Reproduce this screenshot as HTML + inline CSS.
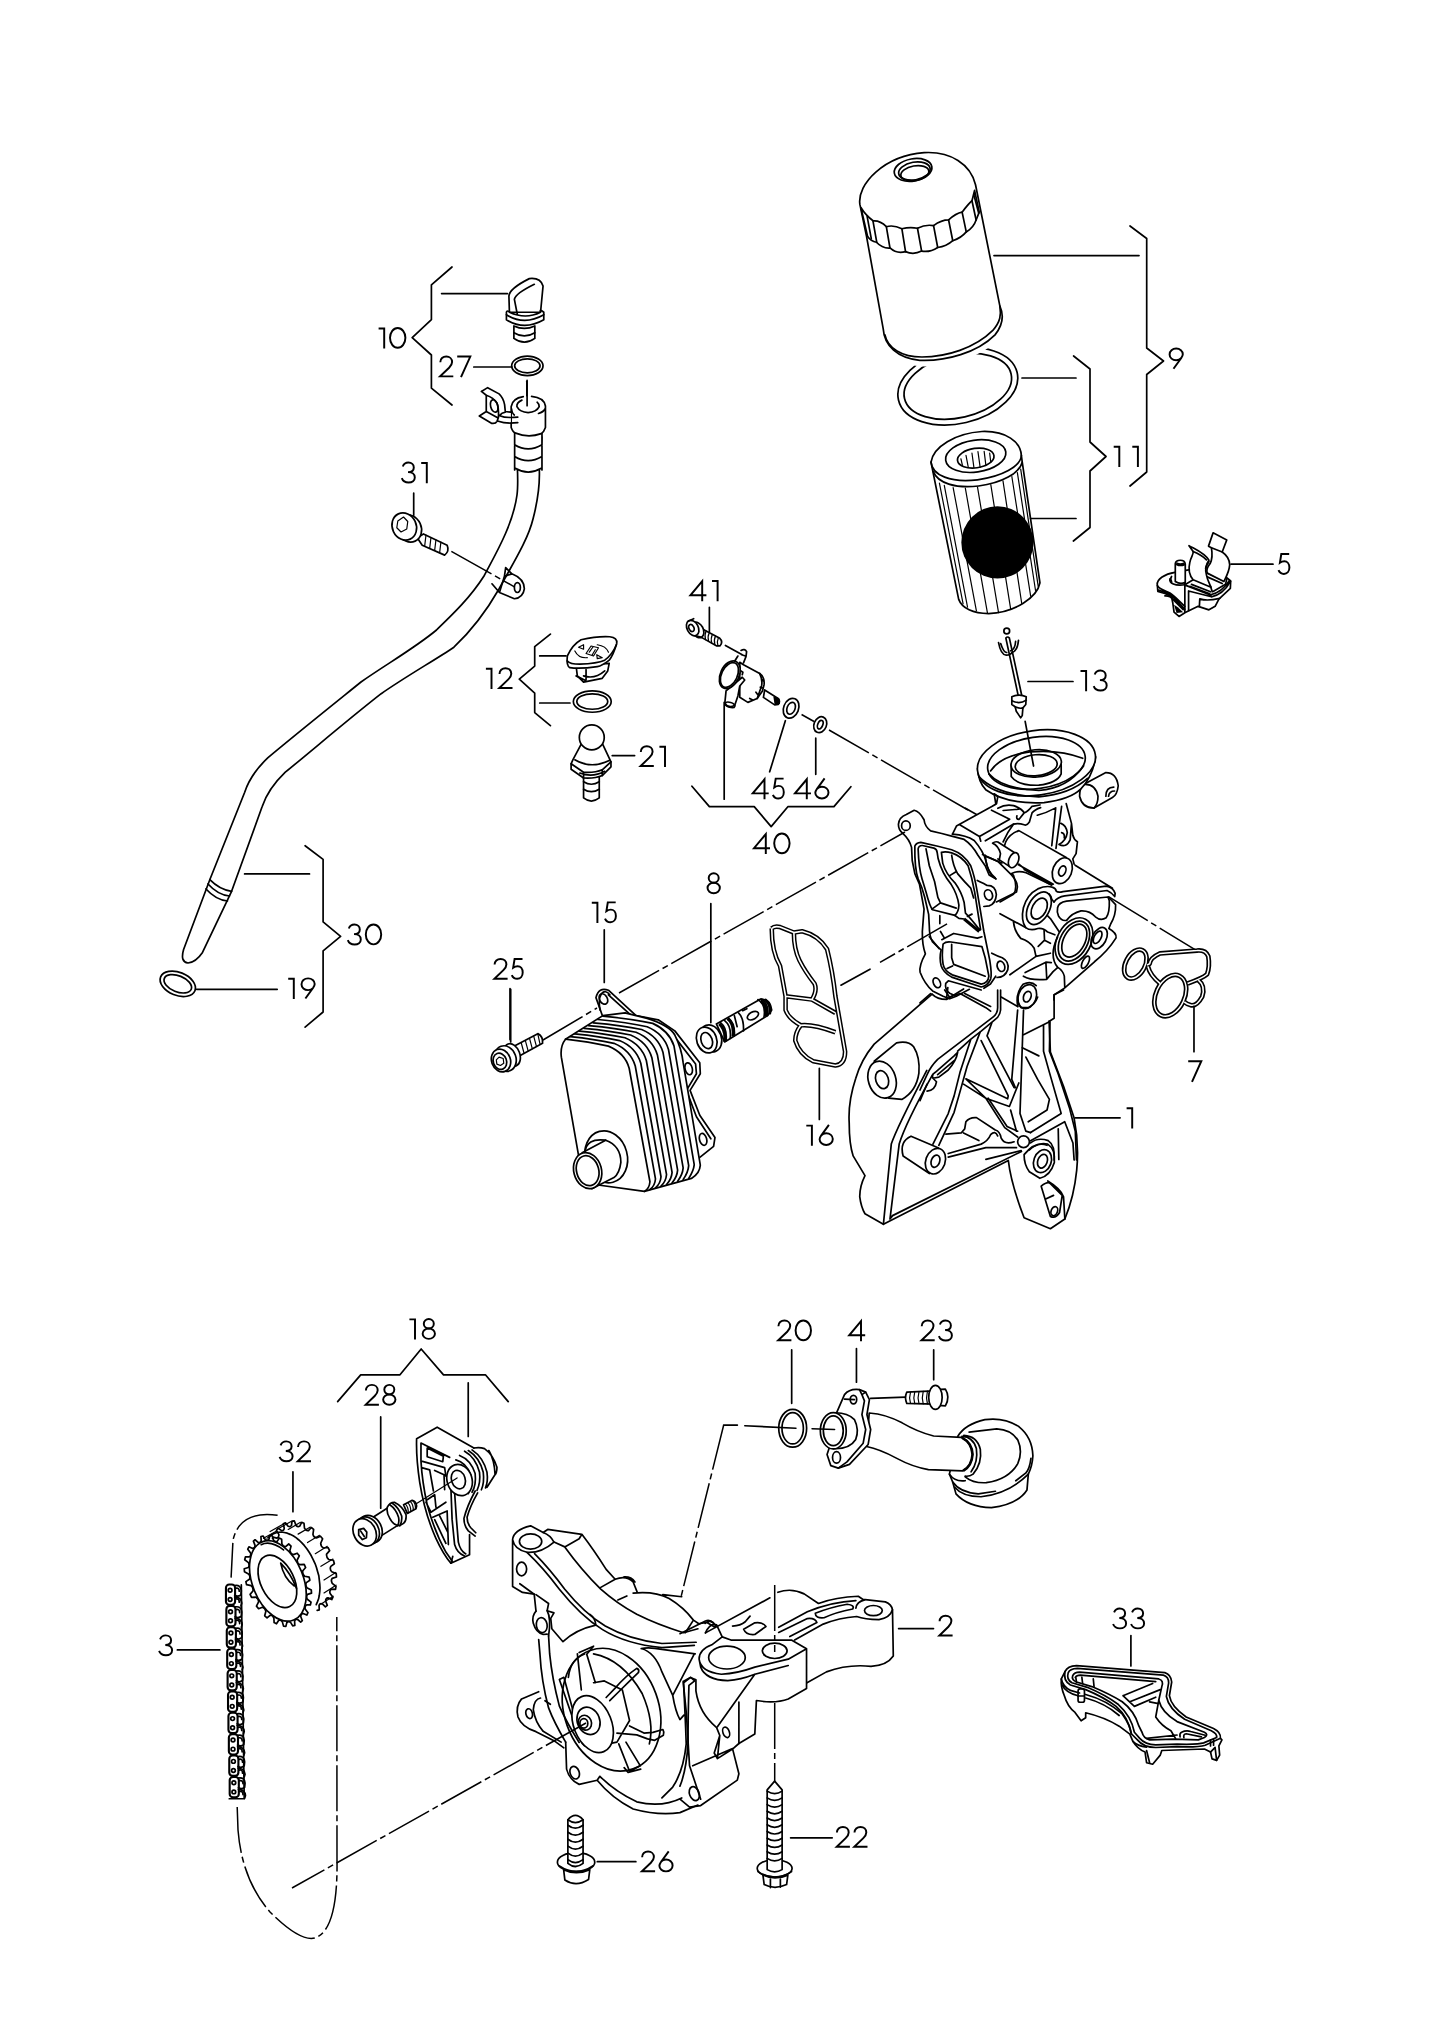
<!DOCTYPE html>
<html><head><meta charset="utf-8"><title>Oil filter / oil pump parts diagram</title>
<style>
html,body{margin:0;padding:0;background:#fff}
svg{display:block}
svg *{vector-effect:non-scaling-stroke}
.l{fill:none;stroke:#000;stroke-width:1.7;stroke-linecap:round;stroke-linejoin:round}
.t{fill:none;stroke:#000;stroke-width:1.2;stroke-linecap:round;stroke-linejoin:round}
.w{fill:#fff;stroke:#000;stroke-width:1.7;stroke-linecap:round;stroke-linejoin:round}
.d{fill:none;stroke:#000;stroke-width:1.5;stroke-dasharray:46 4 6 4}
.k{fill:#000;stroke:none}
text{font-family:"Liberation Sans",sans-serif;font-size:30px;fill:#000}
</style></head><body>
<svg width="1445" height="2042" viewBox="0 0 1445 2042">
<rect width="1445" height="2042" fill="#fff"/>
<!-- filter cap, region [840,140,1160,440] scale 4.516 -->
<g transform="translate(840,140) scale(0.22145)">
<!-- o-ring behind -->
<ellipse class="w" cx="532" cy="1112" rx="275" ry="168" transform="rotate(-13 532 1112)"/>
<ellipse class="w" cx="532" cy="1112" rx="247" ry="142" transform="rotate(-13 532 1112)"/>
<!-- cap body -->
<path d="M90,292 C75,200 200,70 380,57 C500,50 590,110 612,202 L722,750 C740,790 740,830 700,880 C620,960 480,1000 360,995 C260,985 200,930 195,852 L120,436 Z" fill="#fff" stroke="#fff" stroke-width="12" stroke-linejoin="round"/>
<path class="w" d="M90,292 C75,200 200,70 380,57 C500,50 590,110 612,202 L722,750 C740,790 740,830 700,880 C620,960 480,1000 360,995 C260,985 200,930 195,852 L120,436 Z"/>
<path class="l" d="M203,880 C215,940 280,980 370,980 C480,980 610,940 690,860 C725,820 728,790 722,750"/>
<!-- knurl band: frame U [850,180] scale 9.633 -->
<g transform="translate(45.16,180.63) scale(0.46876)">
<path class="w" d="M105,265 Q150,340 225,395 Q290,390 350,450 Q420,430 500,470 Q575,450 650,465 Q730,425 805,440 Q880,385 950,385 Q1020,320 1080,310 Q1140,230 1175,200 L1200,100 L1245,310 L1215,385 Q1190,460 1120,500 Q1070,560 990,585 Q930,640 845,650 Q770,700 690,685 Q610,725 535,690 Q450,715 385,655 Q310,660 255,600 Q200,590 170,545 Z"/>
<path class="l" d="M165,350 L205,565 M222,398 L258,600 M350,450 L385,655 M500,470 L535,690 M650,465 L690,685 M805,440 L845,650 M950,385 L990,585 M1080,310 L1120,500 M1175,200 L1215,385 M1195,150 L1240,320"/>
</g>
<!-- hole -->
<ellipse class="l" cx="330" cy="135" rx="86" ry="50" transform="rotate(-10 330 135)"/>
<ellipse class="l" cx="336" cy="140" rx="72" ry="40" transform="rotate(-10 336 140)"/>
<ellipse class="l" cx="338" cy="150" rx="64" ry="33" transform="rotate(-10 338 150)"/>
</g>

<!-- filter element + pin 13, region [900,420,1220,720] scale 4.516 -->
<g transform="translate(900,420) scale(0.22145)">
<path class="w" d="M140,190 C150,120 250,60 370,52 C480,48 545,100 548,160 L552,190 L632,735 C620,800 520,870 400,874 C330,874 280,850 265,810 L150,240 Z"/>
<path class="l" d="M140,190 C145,250 230,285 350,270 C460,255 545,210 548,160"/>
<path class="l" d="M150,232 C170,285 250,310 355,298 C460,285 540,240 552,190"/>
<ellipse class="l" cx="342" cy="163" rx="137" ry="72" transform="rotate(-8 342 163)"/>
<ellipse class="l" cx="342" cy="172" rx="83" ry="44" transform="rotate(-8 342 172)"/>
<path class="t" d="M275,175 L282,205 M298,160 L308,212 M325,150 L334,216 M352,143 L362,214 M380,142 L388,206 M405,150 L410,192"/>
<path class="t" d="M178,285 L285,830 M200,295 L305,845 M240,305 L345,862 M295,308 L395,872 M350,303 L445,870 M410,292 L500,855 M465,275 L550,830 M505,255 L590,795 M530,238 L612,770 M545,222 L624,750"/>
<circle class="k" cx="440" cy="553" r="163"/>
<!-- pin 13 -->
<circle class="w" cx="482" cy="953" r="13"/>
<path class="l" d="M478,985 L535,1250 M494,985 L550,1245 M478,985 Q486,975 494,985"/>
<path class="l" d="M445,1005 Q455,1060 480,1062 Q500,1060 505,1050 M455,1010 Q468,1050 482,1050 M535,995 Q530,1045 505,1050 M522,1000 Q520,1035 500,1042"/>
<path class="w" d="M505,1250 Q540,1235 570,1250 L568,1285 L555,1300 L552,1335 L545,1345 L525,1315 L520,1295 L505,1285 Z"/>
<path class="l" d="M505,1268 Q540,1285 570,1265 M520,1295 Q540,1305 555,1300"/>
</g>

<!-- part 5 clip, region [1140,515,1260,635] scale 12.04 -->
<g transform="translate(1140,515) scale(0.08304)">
<path class="w" d="M420,690 C300,710 200,770 208,840 L215,920 L300,945 L380,985 L395,1060 L410,1170 L470,1222 L545,1175 L700,1100 L830,1142 L905,1100 L950,1012 L1088,885 L1092,795 L1040,750 L700,640 Z"/>
<path class="l" d="M210,850 C230,890 300,910 360,940 C420,975 480,1050 540,1100 M225,905 C300,930 360,950 400,990 L540,1135 M300,975 Q360,970 400,1020 L520,1140"/>
<path class="l" d="M540,800 V1170 M585,915 V1150 M585,915 L860,985 M560,850 L855,965 M555,830 L640,780 M860,985 Q1000,960 1090,800 M850,960 Q990,930 1075,790 M720,1010 Q800,1040 960,1005 M720,1010 L715,1100 M600,860 L840,950 M620,835 L850,925"/>
<path class="l" d="M880,920 L1030,835 L1045,770 M820,700 L1010,790 M810,745 L990,825 M850,860 L870,925"/>
<path class="k" d="M410,1080 L455,1110 L520,1170 L440,1180 Z"/>
<!-- pin -->
<path class="l" d="M360,770 C350,820 420,860 540,840 M380,740 Q360,770 380,800"/>
<path class="w" d="M425,800 V585 Q430,545 485,545 Q540,545 545,590 V810 Q485,840 425,800 Z"/>
<path class="l" d="M440,595 Q485,620 535,598 M445,580 Q485,600 530,580"/>
<!-- leaves -->
<path class="w" d="M590,370 C680,420 780,460 830,545 C790,600 780,650 800,720 C810,780 840,830 855,870 L640,780 C590,720 580,650 600,570 C610,510 650,470 640,440 Z"/>
<path class="l" d="M640,440 Q740,480 800,540 M790,640 Q800,610 830,560"/>
<path class="w" d="M880,215 L1045,300 L990,445 C1040,480 1080,530 1080,600 C1075,680 1040,740 1010,800 L810,700 C790,650 820,620 845,585 C875,520 870,450 860,395 L825,375 Z"/>
<path class="l" d="M860,395 L990,445"/>
</g>

<!-- dipstick tube lower part in real coords -->
<path class="w" d="M515.6,437 C517,460 519,480 517,495 C513,525 495,555 484,576 C470,598 452,615 436.5,630 C415,648 385,665 361,682 C330,707 295,735 268,757.6 C255,770 248,782 244.6,792.5 L209.8,879.7 L183.6,949.5 Q180,962 188,963 Q196,962 202.5,952.4 L231.6,891.3 L262,807 C266,795 274,783 285.3,772.2 C315,748 350,718 381.2,693.7 C405,677 435,660 453.9,647.2 C470,632 487,610 499,589 C512,565 528,540 533,519 C538,500 540,485 539.3,469 L541.8,437 Z"/>
<path class="l" d="M209.8,879.7 Q220,890 231.6,891.3 M208,884 Q218,895 229.5,896 M206,889 Q216,900 227.5,901"/>
<ellipse class="w" cx="177.8" cy="983.8" rx="18.5" ry="11.5" transform="rotate(22 177.8 983.8)"/>
<ellipse class="l" cx="177.8" cy="983.8" rx="14.5" ry="8" transform="rotate(22 177.8 983.8)"/>
<!-- upper: region [340,240,700,600] scale 4.014 -->
<g transform="translate(340,240) scale(0.24913)">
<!-- plug 10 -->
<path class="w" d="M680,290 L678,225 Q680,195 760,155 Q805,150 815,185 L805,290 Z"/>
<path class="l" d="M712,300 L700,238 Q705,215 780,178"/>
<path class="w" d="M668,290 V320 Q740,365 818,320 V290 Q800,275 805,290 Q745,320 680,290 Q670,280 668,290 Z"/>
<path class="l" d="M668,300 Q740,345 818,300"/>
<path class="w" d="M698,345 V395 Q740,425 782,395 V345 Q740,365 698,345 Z"/>
<path class="l" d="M698,372 Q740,398 782,372"/>
<!-- oring 27 -->
<ellipse class="w" cx="752" cy="505" rx="63" ry="39"/><ellipse class="l" cx="752" cy="505" rx="51" ry="28"/>
<path class="l" d="M750,568 V662"/>
</g>
<!-- frame W [470,370] scale 14.45 -->
<g transform="translate(470,370) scale(0.069204)">
<path class="w" d="M645,900 V1445 H1040 V900 Z" style="stroke:none"/>
<path class="l" d="M645,905 V1445 M1040,915 V1445 M645,1080 Q840,1200 1040,1080 M645,1250 Q840,1370 1040,1250 M655,1420 Q840,1530 1030,1420"/>
<path class="w" d="M595,530 V830 Q620,900 660,912 Q840,985 1030,920 Q1070,890 1090,830 V520 Q1060,380 840,380 Q620,385 595,530 Z" style="stroke:none"/>
<path class="l" d="M770,385 Q610,410 595,530 V830 Q620,900 660,912 Q840,985 1030,920 Q1070,890 1090,830 V520 Q1070,400 890,382 M750,435 Q670,470 678,530 Q720,610 840,615 Q960,610 1000,530 Q1000,490 970,465 M600,560 Q610,630 640,650 M1085,560 Q1060,610 990,628"/>
<path class="l" d="M825,150 V515"/>
<!-- clamp -->
<path class="w" d="M165,310 L255,255 L420,345 Q480,400 500,500 L510,600 L590,610 V760 L410,740 L390,742 Q370,780 310,770 L135,665 L235,600 V365 Z" style="stroke:none"/>
<path class="l" d="M165,310 L255,255 L420,345 Q480,400 500,500 L510,600 L590,610 M165,310 L235,365 V600 M235,365 Q340,400 390,480 Q420,560 410,690 M235,600 L135,665 L310,770 Q370,780 390,742 L410,690 M235,600 L400,690 M430,660 Q520,700 690,680 M410,740 Q520,780 690,760 M430,660 Q450,620 510,610"/>
<ellipse class="l" cx="350" cy="520" rx="52" ry="92" transform="rotate(-15 350 520)"/>
</g>
<g transform="translate(340,240) scale(0.24913)">
<!-- bolt 31 -->
<path class="w" d="M310,1195 L335,1180 L430,1225 Q440,1250 420,1265 L330,1225 Z"/>
<path class="t" d="M345,1185 L340,1228 M365,1195 L360,1238 M385,1204 L380,1246 M405,1213 L400,1255"/>
<ellipse class="w" cx="278" cy="1158" rx="48" ry="56" transform="rotate(-25 278 1158)"/>
<ellipse class="w" cx="258" cy="1150" rx="48" ry="56" transform="rotate(-25 258 1150)"/>
<path class="t" d="M232,1128 L255,1112 L272,1130 L268,1160 L245,1172 L228,1155 Z"/>
<path class="d" d="M447,1250 L700,1392"/>
<!-- tab -->
<path class="l" d="M665,1315 L690,1340 Q740,1360 740,1400 Q735,1435 700,1440 L640,1415 L610,1380 M665,1315 L660,1350 L690,1340 M640,1415 L660,1350"/>
<ellipse class="l" cx="712" cy="1395" rx="12" ry="20"/>
</g>

<!-- region [530,570,890,870] scale 4.014 -->
<g transform="translate(530,570) scale(0.24913)">
<!-- cap 12 -->
<path class="w" d="M185,385 L190,425 L215,450 L290,435 L312,405 L318,375 Z"/>
<path class="l" d="M185,425 L215,440 M215,425 Q260,440 300,405 M225,400 V440 M195,430 L225,445"/>
<path class="w" d="M150,345 Q170,300 205,280 Q270,265 320,268 Q352,272 348,295 Q335,340 318,362 Q290,385 270,388 Q200,398 160,392 Q145,385 150,345 Z"/>
<path class="l" d="M150,365 Q160,378 200,378 Q270,375 300,362 Q330,340 347,300"/>
<path class="t" d="M195,310 L215,300 L215,318 Z M290,352 L268,340 L270,356 Z M225,335 L245,305 L275,312 L255,345 Z M238,330 L252,310 M262,320 L250,340 M180,325 Q195,355 230,352 M270,300 Q305,305 315,330"/>
<ellipse class="w" cx="250" cy="528" rx="76" ry="43"/><ellipse class="l" cx="250" cy="528" rx="62" ry="31"/>
<!-- ball stud 21 -->
<path class="w" d="M215,820 V915 Q246,940 278,915 V820 Z"/>
<path class="l" d="M215,850 Q246,870 278,850 M215,880 Q246,900 278,880"/>
<path class="w" d="M205,700 L172,762 L165,778 V800 L215,835 Q260,838 290,825 L325,790 V770 L292,700 Z"/>
<path class="l" d="M165,778 L215,812 Q260,815 290,802 L325,770 M215,812 V835 M290,802 V825 M180,762 Q245,800 318,765 M200,815 Q250,835 300,808"/>
<circle class="w" cx="248" cy="672" r="50"/>
</g>
<!-- frame S [670,600] scale 8.028 -->
<g transform="translate(670,600) scale(0.12457)">
<path class="w" d="M260,232 L400,308 Q428,335 402,368 L372,368 L238,292 Z"/>
<path class="t" d="M290,250 Q275,280 285,318 M315,263 Q300,293 310,332 M340,277 Q325,307 335,346 M365,290 Q350,320 360,358 M388,303 Q375,333 385,367"/>
<ellipse class="w" cx="222" cy="240" rx="45" ry="66" transform="rotate(-28 222 240)"/>
<ellipse class="w" cx="182" cy="225" rx="45" ry="66" transform="rotate(-28 182 225)"/>
<path class="l" d="M145,170 L190,150 M215,290 L255,300"/>
<ellipse class="l" cx="172" cy="225" rx="20" ry="30" transform="rotate(-28 172 225)"/>
<path class="l" d="M445,365 L580,440 M570,405 Q600,388 615,415 L610,455 L590,505 M575,440 L600,448 M520,490 L545,450"/>
<!-- sensor body -->
<path class="w" d="M560,500 L590,520 L720,590 Q762,620 755,680 L742,730 L700,790 L625,822 L560,780 Z"/>
<path class="l" d="M720,590 Q745,640 735,690 L700,790 M740,640 L750,650 M725,700 L740,705 M690,740 L705,760 M640,790 L660,800 M570,570 L585,580 L580,600"/>
<path class="w" d="M760,722 L868,790 Q888,812 870,838 L840,842 L750,782 Z"/>
<path d="M840,775 L850,840 M855,783 L862,840 M868,792 L872,836" fill="none" stroke="#000" stroke-width="2.6"/>
<path class="w" d="M450,730 L440,830 Q470,872 520,845 L545,770 L560,690 L600,642 L580,620 Z"/>
<ellipse class="l" cx="482" cy="842" rx="40" ry="20" transform="rotate(15 482 842)"/>
<ellipse class="w" cx="480" cy="600" rx="75" ry="118" transform="rotate(25 480 600)"/>
<ellipse class="l" cx="477" cy="602" rx="63" ry="106" transform="rotate(25 477 602)"/>
<path class="l" d="M435,822 V1599"/>
</g>
<g transform="translate(530,570) scale(0.24913)">
<!-- orings -->
<ellipse class="w" cx="1048" cy="555" rx="30" ry="41" transform="rotate(22 1048 555)"/><ellipse class="l" cx="1048" cy="555" rx="16" ry="25" transform="rotate(22 1048 555)"/>
<ellipse class="w" cx="1165" cy="621" rx="25" ry="33" transform="rotate(22 1165 621)"/><ellipse class="l" cx="1165" cy="621" rx="10" ry="18" transform="rotate(22 1165 621)"/>
<path class="d" d="M1090,580 L1140,608"/>
<path class="l" d="M1025,605 L962,810 M1147,675 V820 M650,868 L720,950 H900 L968,1030 L1035,950 H1220 L1288,870 M720,150 V248 M330,745 H420"/>
</g>
<path class="d" d="M829,730 L968,810"/>


<!-- flange: region [880,800,1070,1010] scale 7.605 -->
<g transform="translate(880,800) scale(0.131488)">
<path fill="#fff" stroke="none" d="M175,255 Q140,230 140,185 Q145,130 200,110 L260,78 Q300,85 335,150 Q340,200 385,235 L470,255 L545,275 L640,300 Q700,340 745,420 L800,500 L830,570 L880,600 L900,780 L1040,700 L1180,1130 L1190,1250 L1100,1330 L950,1345 L880,1340 L840,1400 L790,1432 L680,1440 L580,1492 L530,1512 L480,1492 L400,1452 Q340,1400 305,1310 Q295,1260 345,1170 Q320,1100 322,1000 L335,830 L300,640 L265,560 L245,460 L240,360 Q225,300 175,255 Z"/>
<path class="l" d="M880,600 L830,570 L800,500 L745,420 Q700,340 640,300 L545,275 L470,255 L385,235 Q340,200 335,150 Q300,85 260,78 L200,110 Q145,130 140,185 Q140,230 175,255 Q225,300 240,360 L245,460 L265,560 L300,640 L335,830 L322,1000 Q320,1100 345,1170 Q295,1260 305,1310 Q340,1400 400,1452 L480,1492 L530,1512 L580,1492 L680,1440 M880,1340 L840,1400 L790,1432"/>
<ellipse class="l" cx="197" cy="195" rx="33" ry="36"/>
<!-- bosses -->
<path class="l" d="M740,612 Q800,640 815,650 Q880,650 885,720 Q880,790 830,805 L790,810"/>
<ellipse class="l" cx="825" cy="722" rx="30" ry="40" transform="rotate(-20 825 722)"/>
<path class="l" d="M850,1165 Q900,1190 930,1200 Q985,1230 972,1290 Q950,1350 890,1350"/>
<ellipse class="l" cx="920" cy="1265" rx="28" ry="40" transform="rotate(-20 920 1265)"/>
<ellipse class="l" cx="432" cy="1390" rx="26" ry="40" transform="rotate(-25 432 1390)"/>
<!-- groove outer -->
<path class="l" d="M265,350 Q275,325 310,322 L440,352 L545,378 Q640,410 690,500 Q720,580 740,700 L790,1000 L835,1220 Q852,1330 842,1360 Q820,1412 770,1422 L545,1347 Q480,1310 465,1260 Q450,1200 465,1140 Q440,1120 400,1080 Q375,1040 375,960 L370,870 L340,740 Q320,660 290,600 Q262,520 265,350 Z"/>
<!-- window 1 -->
<path class="l" d="M290,372 Q295,345 322,346 L410,366 Q432,372 435,400 L442,445 Q470,555 540,640 Q590,720 600,800 Q598,850 570,878 L400,835 Q380,815 350,700 L320,600 Q295,520 290,372 Z"/>
<path class="l" d="M350,372 L375,500 L415,620 L440,740 L460,782 L580,822 M395,830 L460,782"/>
<!-- window 2 -->
<path class="l" d="M467,398 Q500,390 545,402 Q620,425 670,500 Q700,590 720,700 L765,985 M467,398 L477,480 Q500,560 570,630 Q620,700 640,780 L650,860 Q690,900 760,990"/>
<path class="l" d="M545,420 Q555,500 590,560 Q640,620 690,670 L712,745 M530,575 L575,548 M665,885 L700,868"/>
<path d="M640,905 L755,1000" fill="none" stroke="#000" stroke-width="3"/>
<!-- lower window -->
<path class="l" d="M480,1095 Q500,1075 540,1080 L775,1115 L800,1200 L828,1340 Q822,1395 770,1400 L550,1330 Q490,1300 480,1250 Q468,1180 480,1095 Z"/>
<path class="l" d="M545,1098 L545,1200 L560,1250 L800,1340 M510,1282 L552,1262 M470,1062 L560,1015 L740,1050 L775,1040 M375,1040 L450,1130 M570,878 L600,900 L640,905 M455,880 V940 M460,1000 L490,1050"/>
<!-- left lower -->
<path class="l" d="M500,1395 Q490,1440 530,1470 L580,1492 M500,1395 L520,1375 L770,1445"/>
<!-- right body -->
<path class="l" d="M800,420 Q810,520 850,575 L882,600 M780,415 L900,470 L1000,570 Q1045,620 1045,660 L1038,700 L885,775"/>
<!-- dash-dot lines -->
<path class="d" d="M510,942 L0,1235"/>
</g>

<!-- housing upper: region [860,720,1240,1020] scale 3.8026 -->
<path class="d" d="M965,808 L1004,830"/>
<g transform="translate(860,720) scale(0.26298)">
<!-- side boss -->
<path class="w" d="M850,245 L935,200 Q975,200 982,250 Q978,285 960,295 L890,335 Q845,335 835,290 Q835,255 850,245 Z"/>
<path class="l" d="M850,245 Q895,240 905,290 Q905,320 890,335 M935,290 Q935,255 965,255 M945,290 Q948,270 968,270"/>
<!-- neck -->
<path class="w" style="stroke:none" d="M500,285 L520,320 L545,320 L620,345 L600,385 L560,430 L545,470 L745,620 L818,550 L830,470 Q805,440 800,400 L790,330 L780,290 Z"/>
<!-- cup -->
<path class="w" d="M447,185 Q450,235 478,265 Q560,322 700,314 Q800,302 840,262 Q885,215 896,140 Z"/>
<ellipse class="w" cx="671" cy="163" rx="226" ry="123" transform="rotate(-8 671 163)"/>
<ellipse class="l" cx="671" cy="163" rx="187" ry="98" transform="rotate(-8 671 163)"/>
<path class="l" d="M452,215 Q520,285 680,292 Q800,282 865,222 M490,205 Q540,262 680,268 Q790,260 850,175"/>
<path class="w" d="M575,170 V215 Q600,250 680,248 Q750,240 765,205 V160 Z"/>
<ellipse class="w" cx="670" cy="165" rx="96" ry="52" transform="rotate(-5 670 165)"/>
<ellipse class="l" cx="670" cy="172" rx="80" ry="40" transform="rotate(-5 670 172)"/>
<path class="l" d="M628,5 L660,175"/>
<g transform="translate(380.26,-114.08) scale(0.47369)"><path class="l" d="M245,650 Q330,525 560,497 Q800,475 985,548"/></g>
</g>
<!-- frame M [940,780] scale 7.605 -->
<g transform="translate(940,780) scale(0.131488)">
<path class="l" d="M880,212 L850,500 M925,200 L882,520 M740,268 Q810,250 880,212 M920,330 Q960,345 968,400 Q960,460 905,490 M925,400 Q950,405 945,440 M905,490 Q960,520 990,455 L1000,330 M960,180 L1000,330 L1010,420 Q1020,455 1045,470 L1035,560 L1010,600 L1020,640"/>
<!-- block -->
<path class="w" d="M95,412 L125,350 L425,185 L440,215 Q500,180 560,195 Q620,215 640,250 L700,250 L640,340 L560,335 L345,462 L260,460 Z" style="stroke:none"/>
<path class="l" d="M95,412 L125,350 L425,185 L412,105 M150,340 L300,430 L530,298 L392,230 M300,430 L310,465 M345,462 L560,335 Q600,328 640,340 Q660,350 680,320 L700,250 Q720,225 765,210 M440,215 Q500,180 560,195 Q620,215 640,250 L600,300 Q578,300 585,272 M480,232 L600,222 M412,105 L440,125 L430,180 L400,198 M640,250 Q670,240 700,200 L760,190"/>
<!-- big cylinder -->
<path class="w" d="M600,385 L960,590 Q1010,640 1000,720 Q970,800 880,795 L590,640 L480,520 Q500,420 600,385 Z" style="stroke:none"/>
<path class="l" d="M600,385 L960,590 M590,640 L862,792 M600,385 Q530,410 500,470 Q480,520 490,560 M560,335 Q510,400 480,470 M640,680 L850,800 M600,640 L660,690"/>
<ellipse class="w" cx="930" cy="690" rx="72" ry="102" transform="rotate(22 930 690)"/>
<ellipse class="l" cx="930" cy="692" rx="26" ry="40" transform="rotate(22 930 692)"/>
<!-- small cylinder -->
<path class="w" d="M400,480 L430,470 L560,552 Q600,590 590,640 L560,668 L520,652 L440,600 Z" style="stroke:none"/>
<path class="l" d="M400,480 Q420,465 440,472 L565,552 M440,600 L525,655 M400,480 Q445,500 460,560 L450,612"/>
<ellipse class="w" cx="560" cy="610" rx="36" ry="60" transform="rotate(22 560 610)"/>
<!-- body curve -->
<path class="l" d="M95,412 Q200,420 260,460 Q330,540 350,620 Q360,690 420,745 M335,575 Q400,600 470,632"/>
</g>

<!-- lower bracket: frame B [840,960] scale 3.8026 -->
<g transform="translate(840,960) scale(0.26298)">
<!-- outer contour -->
<path class="w" d="M350,130 L130,320 Q80,380 60,450 Q30,540 35,620 Q35,700 50,745 L95,820 Q75,860 75,900 Q80,940 95,965 L165,1005 L640,762 L660,880 L700,980 L800,1022 L855,985 Q890,900 900,800 Q910,700 890,600 L850,480 L800,350 L795,232 L700,200 L640,140 L600,120 L560,135 L470,150 L405,160 Z" style="stroke:none"/>
<path class="l" d="M350,130 L130,320 Q80,380 60,450 Q30,540 35,620 Q35,700 50,745 L95,820 Q75,860 75,900 Q80,940 95,965 L165,1005 L640,762 Q650,850 700,980 L800,1022 L855,985 Q890,900 900,800 Q910,700 890,600 L850,480 L800,350 L795,232"/>
<path class="l" d="M350,130 Q370,150 405,150 L470,110 M405,150 L410,105 M330,420 Q215,640 195,700 L165,1005 M350,440 Q250,620 225,700 L190,985 L200,972 L690,728"/>
<!-- top-left boss -->
<path class="l" d="M130,385 L215,315 Q260,305 280,330 Q305,370 300,430 Q290,500 235,530 L185,525"/>
<ellipse class="w" cx="160" cy="455" rx="52" ry="72" transform="rotate(-18 160 455)"/>
<ellipse class="l" cx="160" cy="455" rx="24" ry="35" transform="rotate(-18 160 455)"/>
<!-- bottom-left boss -->
<path class="w" d="M270,670 L375,715 L340,812 L240,745 Q225,690 270,670 Z"/>
<ellipse class="w" cx="363" cy="765" rx="37" ry="50" transform="rotate(20 363 765)"/>
<ellipse class="l" cx="363" cy="765" rx="16" ry="24" transform="rotate(20 363 765)"/>
<!-- bottom-right boss -->
<path class="l" d="M700,740 Q740,690 790,700 Q820,720 815,770 Q800,820 760,830 L720,805 Q700,780 700,740"/>
<ellipse class="l" cx="770" cy="765" rx="33" ry="45" transform="rotate(20 770 765)"/>
<ellipse class="l" cx="770" cy="765" rx="18" ry="27" transform="rotate(20 770 765)"/>
<!-- foot -->
<path class="l" d="M790,840 Q840,870 850,900 L855,985 M765,860 Q790,840 800,850 L845,895 L835,960 Q820,985 800,975 Z M780,910 L812,895"/>
<ellipse class="l" cx="815" cy="955" rx="12" ry="18" transform="rotate(20 815 955)"/>
<path class="l" d="M895,600 H1065"/>
</g>
<!-- ribs: frame Q [920,990] scale 8.5 -->
<g transform="translate(920,990) scale(0.117647)">
<path class="l" d="M660,0 V150 Q660,200 620,230 L150,590 Q90,650 60,720 L0,850 M685,0 V170 Q680,220 640,250 L520,350 L430,420 L320,520 M130,700 L290,560 L320,530 Q310,600 240,680 L160,740 L110,750 Q95,720 130,700 M150,720 L290,600 M60,860 Q130,850 140,780 L110,750 M0,940 L60,800"/>
<path class="l" d="M430,425 L340,700 L290,900 L240,1050 L110,1310 M510,360 L400,650 L330,900 L290,1040 L160,1320"/>
<path class="l" d="M610,280 L570,390 L800,830 M520,430 L750,900 L745,925 L390,755 L560,920 L760,990 L840,790 M370,800 L560,920 L720,1170 L830,1250 M580,920 L740,1160 L830,1200 M770,1020 L820,1200"/>
<path class="l" d="M830,170 L780,760 L810,830 M880,170 L850,1050 L900,1200 L940,1212"/>
<circle class="l" cx="880" cy="1290" r="50"/>
<path class="l" d="M880,380 L1100,270 M1050,300 V520 L1100,700 L1200,1050 L940,1212 M1105,270 L1100,520 L1170,700 L1270,1000 L1320,1200 L1330,1445 M870,490 L1010,560 M900,570 L1000,760 L1100,930 L1080,1020 L920,1120 M1230,1120 L940,1282 M1230,1120 L1300,1300 L1310,1445 M1175,1180 L1180,1440"/>
<path class="l" d="M220,1225 L350,1215 L380,1180 L390,1120 Q420,1080 480,1085 L640,1190 Q680,1200 690,1260 Q720,1320 800,1290 M370,1215 L500,1280 M240,1390 L520,1310 Q580,1280 600,1230 Q640,1190 660,1240 M240,1420 L560,1340 L820,1340 M560,1440 L860,1365"/>
<path class="l" d="M830,60 Q830,120 860,150 L920,150 Q980,120 1000,60 M0,110 L90,30 M210,0 L250,60 L340,30 L560,150 L600,180 M380,30 L600,140 M1220,0 L1140,40 V240 L1100,265 M690,60 L830,140"/>
<path class="l" d="M940,1300 Q1000,1250 1090,1280 Q1150,1320 1140,1445 M930,1360 Q1000,1290 1080,1320"/>
</g>

<!-- right block w/ ports: frame A [860,720] scale 3.8026 -->
<g transform="translate(860,720) scale(0.26298)">
<path class="l" d="M818,552 L960,640"/>
<!-- lower ear -->
<path class="l" d="M600,1090 Q590,1040 620,1005 Q650,990 670,1010"/>
<ellipse class="l" cx="636" cy="1052" rx="34" ry="47" transform="rotate(20 636 1052)"/>
<ellipse class="l" cx="636" cy="1052" rx="14" ry="21" transform="rotate(20 636 1052)"/>
<path class="d" d="M945,672 L1285,880"/>
</g>
<!-- port pad: frame V [1000,870] scale 11.115 -->
<g transform="translate(1000,870) scale(0.089966)">
<!-- outer boundary -->
<path class="l" d="M285,640 Q230,560 260,420 Q300,270 420,210 Q510,170 580,190 Q620,200 625,235 Q645,255 700,240 L1180,180 Q1255,190 1280,260 L1275,295 Q1240,250 1190,228 L720,288 Q640,300 600,355 M1205,300 L1285,385 Q1290,500 1230,600 L1210,650 Q1300,700 1290,755 Q1200,900 1050,1020 L720,1310 L600,1390 V1445 M285,640 Q340,680 420,650 Q480,640 530,690 L610,720 M640,745 Q590,850 590,930 Q590,1020 640,1080 Q700,1120 715,1180 L720,1310"/>
<!-- port 1 -->
<ellipse class="l" cx="432" cy="425" rx="118" ry="195" transform="rotate(28 432 425)"/>
<ellipse class="l" cx="436" cy="430" rx="78" ry="125" transform="rotate(28 436 430)"/>
<path class="l" d="M545,265 Q570,290 575,325 L600,355 M530,510 L560,540 L660,690"/>
<!-- bean pocket -->
<path class="l" d="M640,420 Q650,360 740,345 L1200,300 L1215,340 Q1220,480 1180,530 Q1120,570 1060,520 Q1000,450 900,455 Q800,480 740,560 Q680,570 650,510 Q630,460 640,420 Z"/>
<!-- port 2 -->
<ellipse class="l" cx="822" cy="790" rx="188" ry="275" transform="rotate(28 822 790)"/>
<ellipse class="l" cx="822" cy="790" rx="152" ry="238" transform="rotate(28 822 790)"/>
<ellipse class="l" cx="826" cy="785" rx="118" ry="198" transform="rotate(28 826 785)"/>
<!-- right small port -->
<ellipse class="l" cx="1102" cy="758" rx="78" ry="128" transform="rotate(28 1102 758)"/>
<ellipse class="l" cx="1085" cy="748" rx="38" ry="75" transform="rotate(28 1085 748)"/>
<ellipse class="l" cx="950" cy="1025" rx="33" ry="75" transform="rotate(28 950 1025)"/>
<!-- left body -->
<path class="l" d="M150,580 Q160,680 230,760 Q330,790 380,870 L400,960 L560,925 M400,960 L110,1165 M490,670 L495,780 L425,850 M495,780 L560,815 M280,1140 L510,1025 L570,1030 M510,1025 L520,1215 M260,1180 Q340,1230 520,1215 L590,1130 L640,1085 M0,485 L285,640 M0,355 L150,270 Q200,200 150,60 L130,40 Q200,0 290,30 L560,160"/>
</g>

<!-- cooler etc: frame D [470,880] scale 3.6125 -->
<path class="d" d="M543,1040 L597,1008"/>
<path class="d" d="M619,993 L905,832"/>
<g transform="translate(470,880) scale(0.27682)">
<!-- back plate -->
<path class="w" d="M480,495 L455,425 Q465,385 500,398 L600,490 L680,505 L740,545 L830,660 L832,700 L795,760 L830,850 L885,930 L880,962 L820,1010 L700,1000 L560,560 Z"/>
<ellipse class="l" cx="482" cy="430" rx="14" ry="20" transform="rotate(-30 482 430)"/>
<ellipse class="l" cx="790" cy="682" rx="13" ry="22" transform="rotate(-15 790 682)"/>
<ellipse class="l" cx="842" cy="937" rx="13" ry="22" transform="rotate(-15 842 937)"/>
<path class="l" d="M470,470 Q462,430 475,410 Q490,395 505,415 M500,415 L600,505 L675,520 L730,555 L815,665 L818,700 L782,760 L818,855 L870,935"/>
<!-- plates body -->
<path class="w" d="M345,575 L480,490 L560,480 L640,500 Q720,525 740,560 Q765,610 770,660 L832,1030 Q830,1060 800,1078 L630,1125 L450,1100 Q410,1090 400,1040 L330,640 Q325,600 345,575 Z"/>
<path class="l" d="M345,575 Q430,585 500,600 Q560,625 575,680 L650,1090 Q648,1115 630,1125"/>
<path class="l" d="M362,566 Q450,575 520,590 Q580,615 597,672 L670,1080 Q668,1105 650,1118"/>
<path class="l" d="M378,556 Q470,565 540,580 Q600,605 617,662 L690,1072 Q688,1097 670,1112"/>
<path class="l" d="M395,546 Q490,555 560,570 Q620,595 637,652 L710,1064 Q708,1089 690,1106"/>
<path class="l" d="M412,536 Q510,545 580,560 Q640,585 657,642 L730,1056 Q728,1081 710,1100"/>
<path class="l" d="M428,526 Q530,535 600,550 Q660,575 677,632 L750,1048 Q748,1073 730,1094"/>
<path class="l" d="M445,516 Q550,525 620,540 Q680,565 697,622 L770,1040 Q768,1065 750,1088"/>
<path class="l" d="M462,504 Q570,515 640,530 Q700,555 717,612 L790,1032 Q788,1057 770,1082"/>
<path class="l" d="M480,492 Q590,503 660,518 Q720,545 737,600 L810,1028 Q808,1050 790,1078"/>
<!-- pipe -->
<ellipse class="l" cx="492" cy="1000" rx="76" ry="95" transform="rotate(-15 492 1000)"/>
<path class="w" d="M405,985 L490,940 Q545,960 545,1020 Q540,1060 520,1075 L440,1115 Z"/>
<path class="l" d="M490,940 Q420,930 415,985"/>
<ellipse class="w" cx="425" cy="1050" rx="50" ry="66" transform="rotate(-15 425 1050)"/>
<ellipse class="l" cx="425" cy="1050" rx="40" ry="55" transform="rotate(-15 425 1050)"/>
<!-- bolt 25 -->
<path class="w" d="M150,605 L245,555 Q265,565 262,590 L170,640 Z"/>
<path class="t" d="M185,588 L195,625 M200,580 L210,617 M215,572 L225,609 M230,564 L240,601 M245,557 L253,593"/>
<ellipse class="w" cx="152" cy="632" rx="28" ry="42" transform="rotate(-20 152 632)"/>
<ellipse class="w" cx="128" cy="645" rx="38" ry="47" transform="rotate(-20 128 645)"/>
<ellipse class="w" cx="112" cy="652" rx="34" ry="42" transform="rotate(-20 112 652)"/>
<ellipse class="l" cx="108" cy="655" rx="24" ry="30" transform="rotate(-20 108 655)"/>
<path class="t" d="M95,650 L105,640 L120,645 L122,662 L110,670 L97,665 Z"/>
<!-- valve 8 -->
<path class="w" d="M890,520 L1050,430 Q1085,430 1090,470 L1075,490 L920,585 Z"/>
<path class="l" d="M1040,432 Q1070,450 1062,495 M1052,430 Q1082,448 1074,490 M905,515 Q930,535 925,580 M920,508 Q945,528 940,572 M935,500 Q958,518 955,562 M970,480 Q990,500 988,545 M985,472 L1000,465 M955,490 L965,530"/>
<ellipse class="l" cx="1022" cy="490" rx="22" ry="13" transform="rotate(-30 1022 490)"/>
<path d="M900,520 Q925,540 920,585 M930,500 Q955,518 950,565 M1050,436 Q1075,452 1068,492 M1065,432 Q1090,450 1082,485" fill="none" stroke="#000" stroke-width="3"/>
<ellipse class="w" cx="870" cy="572" rx="38" ry="50" transform="rotate(-20 870 572)"/>
<ellipse class="w" cx="855" cy="578" rx="36" ry="48" transform="rotate(-20 855 578)"/>
<ellipse class="l" cx="855" cy="580" rx="20" ry="30" transform="rotate(-20 855 580)"/>
<!-- gasket 16 -->
<path fill="none" stroke="#000" stroke-width="4.6" stroke-linejoin="round" d="M1090,175 Q1100,165 1120,170 L1170,190 L1200,185 Q1260,200 1290,250 Q1310,330 1320,420 L1355,620 Q1355,665 1320,670 L1240,655 Q1190,630 1175,580 Q1175,550 1195,525 Q1240,520 1320,550 M1195,525 Q1150,500 1140,470 L1140,420 L1120,310 Q1090,260 1090,175 M1140,420 L1235,432 Q1255,400 1245,375 Q1210,330 1190,290 Q1170,250 1170,190 M1235,432 L1320,480"/>
<path fill="none" stroke="#fff" stroke-width="1.6" stroke-linejoin="round" d="M1090,175 Q1100,165 1120,170 L1170,190 L1200,185 Q1260,200 1290,250 Q1310,330 1320,420 L1355,620 Q1355,665 1320,670 L1240,655 Q1190,630 1175,580 Q1175,550 1195,525 Q1240,520 1320,550 M1195,525 Q1150,500 1140,470 L1140,420 L1120,310 Q1090,260 1090,175 M1140,420 L1235,432 Q1255,400 1245,375 Q1210,330 1190,290 Q1170,250 1170,190 M1235,432 L1320,480"/>
<path class="l" d="M485,180 V370 M870,85 V515 M147,395 V585 M1262,680 V865 M1340,380 L1445,322"/>
</g>


<!-- gasket 7: frame E [1100,920] scale 10.32 -->
<g transform="translate(1100,920) scale(0.096886)">
<g fill="none" stroke="#000" stroke-width="4.8" stroke-linejoin="round">
<ellipse cx="365" cy="455" rx="100" ry="160" transform="rotate(28 365 455)"/>
<path d="M485,465 L512,452 Q520,390 620,345 L1000,315 Q1090,305 1118,375 Q1135,480 1105,560 Q1060,600 905,655 M495,480 Q515,570 625,660"/>
<ellipse cx="725" cy="780" rx="148" ry="225" transform="rotate(25 725 780)"/>
<path d="M1015,620 Q1090,680 1055,790 Q1000,890 940,880 Q890,865 870,845"/>
</g>
<g fill="none" stroke="#fff" stroke-width="1.5" stroke-linejoin="round">
<ellipse cx="365" cy="455" rx="100" ry="160" transform="rotate(28 365 455)"/>
<path d="M485,465 L512,452 Q520,390 620,345 L1000,315 Q1090,305 1118,375 Q1135,480 1105,560 Q1060,600 905,655 M495,480 Q515,570 625,660"/>
<ellipse cx="725" cy="780" rx="148" ry="225" transform="rotate(25 725 780)"/>
<path d="M1015,620 Q1090,680 1055,790 Q1000,890 940,880 Q890,865 870,845"/>
</g>
<path class="l" d="M970,890 V1360"/>
</g>


<!-- oil pump: frame F [490,1500] scale 3.0104 -->
<g transform="translate(490,1500) scale(0.33218)">
<path class="w" style="stroke:none" d="M70,110 L125,78 L165,95 L230,120 Q290,150 330,230 L350,262 L385,240 L420,235 L440,285 L520,290 Q570,310 610,370 L660,385 L870,275 L920,270 L980,300 L1100,290 L1190,310 L1210,340 V470 L1170,495 L1090,490 L950,560 L880,600 L800,600 L795,760 L725,760 L750,820 L735,870 L640,915 L560,930 Q420,940 320,862 L270,855 L235,830 L225,745 L190,720 L110,680 Q80,640 85,600 L140,560 L150,420 L135,400 Q125,380 140,360 L135,295 L70,270 Z"/>
</g>
<!-- right part: frame P [680,1570] scale 6.2826 -->
<g transform="translate(680,1570) scale(0.15917)">
<path class="l" d="M565,175 L160,395 M615,140 Q700,110 780,150 L870,210 Q980,170 1120,165 L1150,185 L1290,200 Q1330,215 1335,250 L1340,540 Q1300,600 1200,605 Q1050,590 920,640 L795,710"/>
<path class="l" d="M620,360 L800,262 Q950,200 1105,192 M720,440 L900,340 Q1000,300 1110,292 Q1160,310 1250,312 Q1320,300 1335,250"/>
<ellipse class="l" cx="1215" cy="255" rx="56" ry="32"/>
<path class="l" d="M1105,240 Q1110,200 1160,188"/>
<path class="l" d="M850,272 Q940,235 1050,215 Q1100,220 1085,245 Q980,265 905,300 Q850,305 850,272 Z M620,392 L800,305 Q850,300 860,330 L690,418 M400,372 L470,332 Q520,325 540,355 L470,405 Q415,410 400,372 Z M330,352 Q380,350 410,325 L440,290"/>
<path class="l" d="M160,395 Q190,330 230,345 L265,420 M0,400 L100,350 L160,320 Q190,310 210,335"/>
<!-- near arm -->
<path class="w" d="M120,560 Q120,500 200,470 L265,420 L320,440 L700,440 L795,495 V745 L680,810 Q600,840 480,820 L470,1030 L370,1090 V830 L470,655 Q380,690 300,695 Q160,690 130,610 Z" style="stroke:none"/>
<path class="l" d="M120,560 Q120,500 200,470 L265,420 L320,440 L700,440 L795,495 V745 L680,810 Q600,840 480,820 L470,1030 L370,1090 M120,560 Q130,640 260,655 Q360,650 470,610 L680,560 L795,495 M120,560 L130,610 Q160,690 300,695 Q380,690 470,655 L680,600 M370,830 V1090 M470,655 L235,985"/>
<ellipse class="l" cx="295" cy="550" rx="115" ry="72"/>
<ellipse class="l" cx="595" cy="508" rx="78" ry="48"/>
<!-- lower body -->
<path class="l" d="M20,700 L65,675 L100,690 V760 Q120,900 230,990 L250,1040 L215,1150 L235,1185 L330,1125 L370,1090 M20,700 L40,900 L60,1230 L130,1440 M80,1230 L330,1122 L370,1280 L360,1320 L130,1480 L60,1490 L0,1440 M250,1040 L235,1185"/>
<ellipse class="l" cx="290" cy="1020" rx="20" ry="34" transform="rotate(-20 290 1020)"/>
<ellipse class="l" cx="90" cy="1405" rx="30" ry="45" transform="rotate(-20 90 1405)"/>
</g>
<!-- left part: frame L [500,1510] scale 5.5577 -->
<g transform="translate(500,1510) scale(0.17993)">
<!-- boss -->
<path class="l" d="M70,165 Q75,110 170,88 L240,125 Q280,140 300,178 Q230,240 150,235 Q80,220 70,165 V425 L125,458 L190,468 L200,562"/>
<ellipse class="l" cx="170" cy="175" rx="62" ry="42"/>
<ellipse class="l" cx="120" cy="328" rx="28" ry="38"/>
<path class="l" d="M240,125 L265,108 L455,135 L440,160 L360,205 L300,178 M110,410 L190,468 M455,135 Q520,220 590,330 L640,385 Q700,360 740,400 L762,455 M560,430 L640,385 M655,500 L705,478 M690,372 Q730,370 750,400 M360,205 Q450,330 560,440 Q650,520 760,580 Q880,640 1020,682 L1100,660"/>
<!-- saddle rim -->
<path class="l" d="M150,235 Q240,320 330,440 Q450,590 570,665 Q700,745 900,765 L1080,752 M192,242 Q275,325 360,440 Q470,575 585,645 Q720,722 900,742 L1090,735"/>
<!-- dome -->
<path class="l" d="M740,462 Q860,450 940,492 Q1020,540 1075,612 L1105,632 L1150,625 L1195,652 M1075,612 L1030,682 M1140,630 Q1160,610 1185,625 L1200,645 M905,470 L1010,482"/>
<!-- cutout -->
<path class="l" d="M200,470 L270,520 L262,560 L300,572 L282,602 L288,660 L350,732 Q420,665 532,640 Q530,600 500,580"/>
<!-- left ear -->
<path class="l" d="M200,562 Q175,590 185,630 Q200,682 240,692 L262,690 M262,560 Q285,600 270,700"/>
<ellipse class="l" cx="232" cy="640" rx="30" ry="42" transform="rotate(-10 232 640)"/>
<path class="l" d="M215,720 L222,800 Q230,950 270,1100 Q300,1180 365,1290 M270,700 L276,800 Q290,940 330,1090 Q370,1180 440,1292"/>
<!-- lower-left ear -->
<path class="l" d="M215,1010 L120,1050 Q85,1090 100,1150 Q120,1205 200,1232 L300,1282 L355,1322 M225,1045 Q190,1050 185,1110 Q195,1180 240,1230 L340,1290 M250,1060 L280,1080"/>
<ellipse class="l" cx="162" cy="1132" rx="18" ry="28" transform="rotate(-15 162 1132)"/>
<!-- bottom-left ear & bottom -->
<path class="l" d="M365,1290 L370,1440 Q385,1500 440,1525 L540,1502 L555,1480 Q640,1565 760,1622 Q900,1655 1010,1600 M540,1502 Q620,1600 740,1662 Q880,1700 1000,1682 L1100,1640"/>
<ellipse class="l" cx="415" cy="1460" rx="25" ry="36" transform="rotate(-20 415 1460)"/>
<!-- cover arcs -->
<path class="l" d="M785,770 Q860,790 900,900 L960,1030 Q975,1120 1000,1165 L1022,1140 M1080,800 L960,1030 M785,770 Q830,760 900,775 L1085,800 M1020,960 L1060,930 L1082,950 L1050,975 Q1045,1150 1045,1300 Q1035,1450 1000,1535 M1020,960 Q1030,1150 1035,1300 Q1020,1450 960,1540 L900,1600"/>
<ellipse class="l" cx="620" cy="1110" rx="262" ry="350" transform="rotate(-20 620 1110)"/>
<path class="l" d="M520,800 Q680,830 790,1020 Q860,1180 830,1300 M380,930 Q390,830 470,800"/>
<!-- vanes -->
<path class="l" d="M440,792 L520,757 L482,802 L530,960 M430,800 L452,1000 M330,942 L355,930 L425,1185 M330,942 L402,1150 M590,1042 L640,990 Q700,920 760,880 Q775,885 770,902 Q720,950 660,1010 L610,1060 M720,1200 L800,1240 L850,1236 L905,1220 Q915,1235 908,1252 L860,1280 L820,1272 L760,1250 L650,1240 M660,1300 L720,1452 L780,1422 L700,1290 M690,1432 L712,1458 L782,1440 M520,960 L580,950 L680,1000 L720,1170 L650,1290 L600,1300 M450,1230 Q440,1290 470,1310 L520,1300"/>
<!-- hub -->
<ellipse class="w" cx="515" cy="1190" rx="105" ry="165" transform="rotate(-22 515 1190)"/>
<ellipse class="w" cx="492" cy="1172" rx="62" ry="78" transform="rotate(-22 492 1172)"/>
<ellipse class="w" cx="472" cy="1182" rx="36" ry="42" transform="rotate(-22 472 1182)"/>
<ellipse class="l" cx="466" cy="1186" rx="22" ry="26"/>
</g>
<path class="d" d="M774.7,1585 V1652 M774.7,1703 V1782"/>
<path class="d" d="M586,1723 L292,1888"/>
<path class="l" d="M898.6,1628.6 H933.5 M790.6,1837.8 H832.2"/>

<!-- pickup tube: frame G [700,1290] scale 4.014 -->
<g transform="translate(700,1290) scale(0.24913)">
</g>
<!-- bell+tube: frame R [860,1390] scale 7.605 -->
<g transform="translate(860,1390) scale(0.131488)">
<path class="w" d="M745,350 Q800,260 950,225 Q1100,205 1210,280 Q1310,360 1315,500 Q1310,580 1280,640 L1270,760 Q1200,870 1000,895 Q820,890 730,790 L705,700 L680,640 Z"/>
<path class="l" d="M705,700 Q760,780 900,790 L1030,770 M680,640 Q720,700 800,690 M720,740 Q780,812 920,812 Q1130,790 1280,640 M1185,690 L1262,630 M1300,520 Q1290,600 1262,630 M830,320 L1040,295 Q1150,300 1200,380 Q1240,470 1200,560 Q1130,680 960,705 Q860,710 800,660"/>
<path class="l" d="M790,345 Q890,350 915,450 Q930,560 860,640 Q830,660 800,655 M775,352 Q860,355 885,445 Q900,545 845,622"/>
<path class="w" d="M70,175 Q200,185 320,250 Q440,320 560,350 L770,360 Q850,400 855,490 Q850,580 780,615 L520,605 Q400,585 280,520 Q150,450 50,430 Z"/>
<path fill="none" stroke="#000" stroke-width="2.6" d="M775,362 Q852,402 856,490 Q850,580 785,614"/>
</g>
<g transform="translate(700,1290) scale(0.24913)">
<!-- flange -->
<path class="w" d="M580,420 Q600,395 640,400 L665,410 L680,440 L670,500 L685,560 L675,620 L600,700 L555,715 L525,705 L510,660 L520,630 L545,500 Z"/>
<path class="l" d="M640,400 L650,420 L660,445 L650,500 L665,560 L655,615 L590,690 L555,715 M650,420 L665,410"/>
<ellipse class="l" cx="616" cy="440" rx="13" ry="17"/>
<ellipse class="l" cx="548" cy="672" rx="16" ry="23"/>
<path class="w" d="M535,493 Q590,490 620,520 Q640,560 625,600 Q600,640 535,637 Z"/>
<ellipse class="w" cx="535" cy="565" rx="52" ry="73"/><ellipse class="l" cx="535" cy="565" rx="40" ry="60"/>
<!-- o-ring 20 -->
<ellipse class="w" cx="372" cy="555" rx="56" ry="76"/><ellipse class="l" cx="372" cy="555" rx="43" ry="63"/>
<path class="l" d="M180,545 L385,555 M450,557 L540,560 M580,438 L620,440 M685,435 L825,430 M95,542 H150"/>
<!-- bolt 23 -->
<path class="w" d="M830,410 L940,405 V458 L830,455 Q820,432 830,410 Z"/>
<path class="t" d="M845,410 Q838,432 845,455 M862,409 Q855,432 862,456 M879,408 Q872,432 879,456 M896,407 Q889,432 896,457 M913,406 Q906,432 913,457 M928,406 Q921,432 928,458"/>
<path class="w" d="M945,400 L985,398 Q1005,430 985,465 L945,462 Z"/>
<ellipse class="w" cx="945" cy="431" rx="27" ry="48"/>
<path class="l" d="M368,240 V455 M628,235 V370 M938,240 V360"/>
</g>
<path class="d" d="M723.7,1425 L681,1597" />


<!-- bolts 22/26: frame J [530,1760] scale 4.014 -->
<g transform="translate(530,1760) scale(0.24913)">
<ellipse class="w" cx="185" cy="410" rx="75" ry="38"/>
<path class="w" d="M135,440 L140,482 Q185,512 235,480 L240,440 Q185,465 135,440 Z"/>
<path class="l" d="M118,425 Q185,470 252,425"/>
<path class="w" d="M152,415 V240 Q182,205 213,240 V415 Q182,440 152,415 Z"/>
<path class="l" d="M152,262 Q182,285 213,262 M152,290 Q182,313 213,290 M152,318 Q182,341 213,318 M152,346 Q182,369 213,346 M152,374 Q182,397 213,374 M152,400 Q182,423 213,400 M152,240 Q182,262 213,240"/>
<ellipse class="w" cx="982" cy="435" rx="70" ry="35"/>
<path class="w" d="M935,462 L940,500 Q982,522 1030,500 L1035,462 Q982,485 935,462 Z"/>
<path class="l" d="M915,448 Q982,492 1050,448 M965,478 V512 M1005,478 V510"/>
<path class="w" d="M952,440 V120 L982,85 L1012,120 V440 Q982,458 952,440 Z"/>
<path class="l" d="M952,125 Q982,145 1012,125 M952,152 Q982,172 1012,152 M952,179 Q982,199 1012,179 M952,206 Q982,226 1012,206 M952,233 Q982,253 1012,233 M952,260 Q982,280 1012,260 M952,287 Q982,307 1012,287 M952,314 Q982,334 1012,314 M952,341 Q982,361 1012,341 M952,368 Q982,388 1012,368 M952,395 Q982,415 1012,395"/>
<path class="l" d="M270,408 H425"/>
</g>


<!-- part 33: frame K [1040,1580] scale 6.568 -->
<g transform="translate(1040,1580) scale(0.15225)">
<path class="w" d="M140,650 Q135,700 160,760 Q180,830 230,870 L270,925 L300,905 V872 Q420,900 520,960 L590,1012 L610,1060 Q640,1110 690,1130 L700,1200 L740,1210 L790,1150 L800,1120 L1080,1110 L1120,1130 L1130,1175 L1160,1185 L1180,1150 L1175,1090 L1195,1050 L1185,1040 L165,600 Z"/>
<path class="w" d="M165,600 Q180,565 240,562 L820,608 Q860,620 865,670 L850,760 Q860,830 960,900 L1140,975 Q1190,1000 1185,1040 L1085,1085 Q1040,1100 900,1095 L760,1100 Q680,1100 640,1050 L600,1010 Q580,900 500,830 Q420,770 300,720 L200,690 Q150,660 165,600 Z"/>
<path class="l" d="M185,610 Q195,582 245,580 L810,625 Q845,635 845,675 L830,765 Q845,845 950,915 L1125,990 Q1165,1010 1160,1035 L1075,1070 Q1040,1082 900,1078 L760,1083 Q690,1080 655,1040 L620,1000 Q600,895 515,818 Q430,755 310,705 L210,675 Q172,655 185,610 Z"/>
<path class="l" d="M215,628 Q225,605 260,605 L780,650 Q815,660 800,700 L780,790 Q800,870 900,930 L1080,1000 Q1110,1015 1080,1035 L1040,1050 L880,1045 L720,1050 Q680,1040 670,1000 L650,960 Q620,860 540,800 Q460,750 340,700 L240,670 Q205,655 215,628 Z"/>
<path class="l" d="M232,640 Q240,625 265,625 L760,668 M545,760 L740,680 M590,800 L790,720 M620,830 L760,770 M545,760 L620,830 M780,790 L760,900 Q800,960 860,990 L890,1040 M700,1040 L900,1018 M235,640 L240,672 M275,640 L280,680 M350,650 L355,700 M720,800 L770,810"/>
<path class="l" d="M140,650 Q150,700 200,725 L260,742 M300,752 Q440,790 540,880 Q590,950 600,1010 M145,690 Q170,740 250,760 M300,775 Q430,810 520,890 M610,1060 Q640,1090 700,1098 M700,1120 L720,1200 M1120,1130 L1150,1100 L1160,1185"/>
<rect class="l" x="250" y="715" width="42" height="88" rx="14"/><path class="l" d="M250,762 H292"/>
<path class="l" d="M930,1000 Q960,985 990,995 L1085,1020 M920,1030 Q915,1005 930,1000 M945,1035 Q940,1012 960,1010 L1060,1030 M1120,1050 V1090 M1140,1045 V1085"/>
<path class="l" d="M597,365 V565"/>
</g>


<!-- sprocket/tensioner: frame H [200,1300] scale 4.25 -->
<g transform="translate(200,1300) scale(0.23529)">
<ellipse class="w" style="stroke:none" cx="440" cy="1130" rx="120" ry="192" transform="rotate(-22 440 1130)"/>
<path class="l" d="M318,1055 Q327,1048 321,1034 L307,1020 L310,1008 L327,1012 Q337,1009 335,996 L325,979 L332,970 L347,980 Q357,981 358,970 L354,951 L363,947 L374,961 Q384,967 389,958 L391,940 L401,939 L408,958 Q416,967 424,961 L432,945 L442,949 L444,970 Q450,982 461,980 L473,967 L483,975 L480,996 Q483,1010 495,1011 L512,1004 L521,1015 L513,1034 Q513,1048 525,1054 L544,1052 L551,1065 L538,1080 Q536,1094 547,1103 L567,1106 L571,1121 L556,1132 Q550,1144 560,1155 L579,1163 L580,1177 L562,1183 Q555,1191 562,1204 L578,1217 L576,1230 L558,1229 Q549,1234 553,1247 L565,1263 L560,1273 L544,1266 Q534,1267 534,1279 L541,1298 L533,1304 L520,1292 Q510,1288 506,1298 L507,1317 L498,1319 "/>
<path class="t" d="M252,1056 L306,1025"/>
<path class="t" d="M270,1013 L324,983"/>
<path class="t" d="M298,984 L351,954"/>
<path class="t" d="M334,971 L387,941"/>
<path class="t" d="M375,975 L427,945"/>
<path class="t" d="M417,995 L469,965"/>
<path class="t" d="M457,1031 L508,1000"/>
<path class="t" d="M490,1078 L541,1047"/>
<path class="t" d="M514,1132 L565,1101"/>
<path class="t" d="M527,1190 L577,1158"/>
<path class="t" d="M527,1245 L578,1212"/>
<path class="t" d="M515,1292 L566,1259"/>
<path class="l" d="M268,1049 L273,1036 L279,1024 L286,1014 L294,1005 L303,998 L313,993 L324,989 L335,987 L346,986 L358,988 L371,991 L383,996 L396,1002 L408,1010 L420,1020 L432,1031 L443,1043 L454,1057 L464,1072 L473,1087 L481,1103 L489,1120 L495,1137 L500,1155 L505,1172 L507,1190 L509,1207 L510,1224 L509,1240 L507,1255 L504,1270 L499,1283 L494,1295"/>
<ellipse class="w" style="stroke:none" cx="331" cy="1194" rx="118" ry="188" transform="rotate(-22 331 1194)"/>
<path class="l" d="M437,1151 Q434,1165 445,1174 L464,1178 L467,1191 L452,1201 Q446,1213 456,1224 L473,1233 L474,1246 L457,1251 Q450,1259 456,1272 L472,1284 L469,1296 L453,1296 Q444,1301 447,1313 L459,1329 L454,1339 L438,1332 Q428,1333 428,1345 L435,1363 L428,1369 L415,1358 Q405,1355 402,1365 L403,1383 L394,1385 L385,1370 Q376,1363 369,1371 L365,1387 L355,1386 L350,1368 Q343,1358 334,1362 L325,1376 L315,1371 L314,1352 Q309,1339 298,1340 L285,1351 L275,1342 L280,1323 Q277,1309 265,1306 L249,1312 L240,1301 L249,1283 Q250,1269 237,1263 L219,1264 L213,1251 L225,1237 Q228,1223 217,1214 L198,1210 L195,1197 L210,1187 Q216,1175 206,1164 L189,1155 L188,1142 L205,1137 Q212,1129 206,1116 L190,1104 L193,1092 L209,1092 Q218,1087 215,1075 L203,1059 L208,1049 L224,1056 Q234,1055 234,1043 L227,1025 L234,1019 L247,1030 Q257,1033 260,1023 L259,1005 L268,1003 L277,1018 Q286,1025 293,1017 L297,1001 L307,1002 L312,1020 Q319,1030 328,1026 L337,1012 L347,1017 L348,1036 Q353,1049 364,1048 L377,1037 L387,1046 L382,1065 Q385,1079 397,1082 L413,1076 L422,1087 L413,1105 Q412,1119 425,1125 L443,1124 L449,1137 L437,1151 Q434,1165 445,1174 L464,1178 L467,1191 "/>
<ellipse class="w" cx="331" cy="1194" rx="108" ry="179" transform="rotate(-22 331 1194)"/>
<ellipse class="l" cx="329" cy="1196" rx="71" ry="119" transform="rotate(-26 329 1196)"/>
<path class="l" d="M343,1118 Q355,1180 400,1215 M343,1118 Q385,1160 410,1225 M260,1040 Q300,1020 355,1062"/>
</g>
<g transform="translate(340,1420) scale(0.12457)">
<path class="w" d="M250,790 L400,695 L470,840 L330,930 Z" style="stroke:none"/>
<path class="l" d="M250,790 L400,695 M330,930 L470,842"/>
<path class="w" d="M380,700 Q400,660 440,662 Q500,690 530,760 Q535,810 510,830 L480,848 Q430,850 400,790 Q370,740 380,700 Z"/>
<path class="l" d="M420,668 Q470,700 495,770 Q500,820 480,848 M400,680 Q450,715 470,780 Q478,825 462,850"/>
<path class="w" d="M510,680 L580,645 Q610,650 615,690 L610,712 L540,750 Z"/>
<path class="t" d="M525,675 Q550,700 548,745 M545,665 Q570,690 568,735 M565,655 Q590,680 588,725 M585,648 Q608,670 606,712"/>
<ellipse class="w" cx="245" cy="875" rx="88" ry="115" transform="rotate(-28 245 875)"/>
<ellipse class="w" cx="222" cy="888" rx="88" ry="115" transform="rotate(-28 222 888)"/>
<ellipse class="w" cx="198" cy="902" rx="88" ry="115" transform="rotate(-28 198 902)"/>
<path class="l" d="M150,880 L190,870 L215,900 L212,945 L180,960 L150,925 Z M165,890 L195,935"/>
<!-- tensioner -->
<path class="w" d="M615,150 L780,58 L1075,225 L1000,250 Q900,300 860,400 L880,560 L900,800 L920,1000 L960,1080 L1000,1090 L1040,1080 L1040,920 L890,1150 Q830,1080 770,950 Q680,750 640,500 Q610,300 615,150 Z" style="stroke:none"/>
<path class="l" d="M1075,225 L780,58 L615,150 Q610,300 640,500 Q680,750 770,950 Q830,1080 890,1150 L1040,1082 V920 M650,185 V330 Q660,500 700,680 Q760,900 850,1060 L900,1132 M650,185 L880,300 M700,225 L830,290 L825,335 L700,295 Z M655,330 L840,382 L850,450 M655,382 L720,400 L750,570 M760,405 L835,440 L840,560 M690,660 L730,740 L850,660 M700,640 L760,600 L770,700 M745,780 L860,730 L870,1000 M760,800 L850,990 M800,770 L865,900"/>
<path class="l" d="M890,540 L900,800 L920,1000 Q940,1070 1000,1092 M920,580 L935,800 L950,980 Q965,1050 1010,1075 M890,1150 L905,1095"/>
<!-- spring -->
<path class="l" d="M1075,225 Q1120,215 1160,230 Q1230,280 1260,380 Q1260,430 1240,445 L1180,540 M1195,245 Q1240,320 1245,440 M1000,250 Q1090,300 1120,420 Q1130,500 1100,565 M1030,245 Q1120,300 1150,420 Q1160,500 1135,560 M1060,240 Q1150,300 1180,420 Q1190,490 1168,545 M960,285 Q1050,320 1085,430 Q1095,520 1060,580 M930,320 Q1010,340 1050,440 Q1060,530 1030,590"/>
<path class="l" d="M1085,570 Q1020,690 995,790 Q995,850 1030,890 L1085,932 M1105,585 Q1045,690 1020,780 Q1020,830 1050,865 L1090,905"/>
<ellipse class="w" cx="960" cy="482" rx="100" ry="128" transform="rotate(-18 960 482)"/>
<ellipse class="w" cx="950" cy="478" rx="55" ry="76" transform="rotate(-18 950 478)"/>
<path class="t" d="M612,672 L940,465"/>
</g>
<g transform="translate(200,1300) scale(0.23529)">
<path class="l" d="M585,432 L683,318 H850 L940,208 L1035,318 H1213 L1310,432 M1140,352 V580 M768,497 V885 M395,730 V900"/>
</g>


<!-- chain: frame I [140,1560] scale 4.8167 -->
<g transform="translate(140,1560) scale(0.20761)">
<path class="w" style="stroke:none" d="M410,112 H492 L502,1150 H430 Z"/>
<rect class="w" style="stroke-width:2.1" x="414" y="118" width="44" height="98" rx="16"/>
<circle class="l" cx="434" cy="146" r="9"/><circle class="l" cx="434" cy="190" r="9"/>
<path class="l" d="M456,123 Q486,118 488,148 L486,168 Q471,180 456,170 M456,178 Q488,180 490,208 L486,221"/>
<path class="l" d="M461,136 Q478,132 478,150 M461,188 Q478,184 478,203"/>
<rect class="w" style="stroke-width:2.1" x="416" y="221" width="44" height="98" rx="16"/>
<circle class="l" cx="436" cy="249" r="9"/><circle class="l" cx="436" cy="293" r="9"/>
<path class="l" d="M458,226 Q488,221 490,251 L488,271 Q473,283 458,273 M458,281 Q490,283 492,311 L488,324"/>
<path class="l" d="M463,239 Q480,235 480,253 M463,291 Q480,287 480,306"/>
<rect class="w" style="stroke-width:2.1" x="418" y="324" width="44" height="98" rx="16"/>
<circle class="l" cx="438" cy="352" r="9"/><circle class="l" cx="438" cy="396" r="9"/>
<path class="l" d="M460,329 Q490,324 492,354 L490,374 Q475,386 460,376 M460,384 Q492,386 494,414 L490,427"/>
<path class="l" d="M465,342 Q482,338 482,356 M465,394 Q482,390 482,409"/>
<rect class="w" style="stroke-width:2.1" x="420" y="427" width="44" height="98" rx="16"/>
<circle class="l" cx="440" cy="455" r="9"/><circle class="l" cx="440" cy="499" r="9"/>
<path class="l" d="M462,432 Q492,427 494,457 L492,477 Q477,489 462,479 M462,487 Q494,489 496,517 L492,530"/>
<path class="l" d="M467,445 Q484,441 484,459 M467,497 Q484,493 484,512"/>
<rect class="w" style="stroke-width:2.1" x="422" y="530" width="44" height="98" rx="16"/>
<circle class="l" cx="442" cy="558" r="9"/><circle class="l" cx="442" cy="602" r="9"/>
<path class="l" d="M464,535 Q494,530 496,560 L494,580 Q479,592 464,582 M464,590 Q496,592 498,620 L494,633"/>
<path class="l" d="M469,548 Q486,544 486,562 M469,600 Q486,596 486,615"/>
<rect class="w" style="stroke-width:2.1" x="424" y="633" width="44" height="98" rx="16"/>
<circle class="l" cx="444" cy="661" r="9"/><circle class="l" cx="444" cy="705" r="9"/>
<path class="l" d="M466,638 Q496,633 498,663 L496,683 Q481,695 466,685 M466,693 Q498,695 500,723 L496,736"/>
<path class="l" d="M471,651 Q488,647 488,665 M471,703 Q488,699 488,718"/>
<rect class="w" style="stroke-width:2.1" x="426" y="736" width="44" height="98" rx="16"/>
<circle class="l" cx="446" cy="764" r="9"/><circle class="l" cx="446" cy="808" r="9"/>
<path class="l" d="M468,741 Q498,736 500,766 L498,786 Q483,798 468,788 M468,796 Q500,798 502,826 L498,839"/>
<path class="l" d="M473,754 Q490,750 490,768 M473,806 Q490,802 490,821"/>
<rect class="w" style="stroke-width:2.1" x="428" y="839" width="44" height="98" rx="16"/>
<circle class="l" cx="448" cy="867" r="9"/><circle class="l" cx="448" cy="911" r="9"/>
<path class="l" d="M470,844 Q500,839 502,869 L500,889 Q485,901 470,891 M470,899 Q502,901 504,929 L500,942"/>
<path class="l" d="M475,857 Q492,853 492,871 M475,909 Q492,905 492,924"/>
<rect class="w" style="stroke-width:2.1" x="430" y="942" width="44" height="98" rx="16"/>
<circle class="l" cx="450" cy="970" r="9"/><circle class="l" cx="450" cy="1014" r="9"/>
<path class="l" d="M472,947 Q502,942 504,972 L502,992 Q487,1004 472,994 M472,1002 Q504,1004 506,1032 L502,1045"/>
<path class="l" d="M477,960 Q494,956 494,974 M477,1012 Q494,1008 494,1027"/>
<rect class="w" style="stroke-width:2.1" x="432" y="1045" width="44" height="98" rx="16"/>
<circle class="l" cx="452" cy="1073" r="9"/><circle class="l" cx="452" cy="1117" r="9"/>
<path class="l" d="M474,1050 Q504,1045 506,1075 L504,1095 Q489,1107 474,1097 M474,1105 Q506,1107 508,1135 L504,1148"/>
<path class="l" d="M479,1063 Q496,1059 496,1077 M479,1115 Q496,1111 496,1130"/>
<path class="l" d="M488,120 L502,1150 M430,1150 H502"/>
<path class="l" d="M180,433 H385"/>
</g>
<path class="d" d="M277.6,1515.3 Q240,1510 233,1540 L231.1,1577.6"/>
<path class="d" d="M237.2,1807 L238,1830 Q242,1880 270,1912 Q300,1942 315,1938 Q338,1930 337,1860 L336.8,1617"/>

<!-- brackets & labels top-right -->
<path class="l" d="M994,255.6 H1139 M1130,226 L1146.7,238.5 V348 L1163.5,361 L1146.7,374.5 V472 L1130,486"/>
<path class="l" d="M1022,378 H1076 M1073.6,356 L1090,369 V442 L1106,456.5 L1090,471 V527.5 L1073.4,541 M1030.6,518.5 H1076"/>
<path class="l" d="M1231,564.2 H1273 M1028,681.5 H1073"/>


<path class="l" d="M452,267 L431.4,284.8 V319.7 L412.2,337.7 L431.4,355 V388.2 L452,405 M441.6,293.6 H507.4 M473.8,367 H512 M413.7,493 V515.3"/>
<path class="l" d="M305.1,845.7 L323.1,859.4 V921.9 L340.6,936.4 L323.1,950.9 V1012 L305.1,1027.1 M244.6,873.9 H309.5 M196.7,989.3 H277.2"/>
<path class="l" d="M550.4,634.1 L534.7,646.6 V666.1 L519.3,679.2 L534.7,693.1 V712.6 L550.4,725.7 M539.7,655.9 H566 M539.7,703 H570 M510,988.7 V1039.6"/>



<defs>
<g id="d0"><ellipse cx="8.5" cy="10.75" rx="7.7" ry="9.9"/></g>
<g id="d1"><path d="M0,1.3 H5.6 V21.5"/></g>
<g id="d2"><path d="M1.2,6.5 C1.2,3 3.8,0.85 7.2,0.85 C10.6,0.85 13,3.2 13,6.3 C13,8.6 11.8,10.2 10,12 L1,20.65 H14.2"/></g>
<g id="d3"><path d="M1.8,4.8 C2.8,2.2 4.8,0.85 7.4,0.85 C10.6,0.85 12.8,2.9 12.8,5.7 C12.8,8.6 10.6,10.4 7,10.4 C11.2,10.4 13.8,12.6 13.8,15.8 C13.8,18.8 11.2,20.8 7.6,20.8 C4.2,20.8 1.8,19.2 0.8,16.4"/></g>
<g id="d4"><path d="M12.8,21.5 V1.5 L1,15.6 H17"/></g>
<g id="d5"><path d="M11.5,0.85 H3.6 L2.2,9.6 C3.6,8.6 5,8.1 6.6,8.1 C9.6,8.1 11.7,10.7 11.7,14.4 C11.7,18.2 9.4,20.7 6.2,20.7 C3.8,20.7 1.8,19.4 0.8,17"/></g>
<g id="d6"><path d="M10.2,0.6 L2.6,11 C1.4,12.8 0.9,14 0.9,15 C0.9,18.2 3.8,20.7 7.5,20.7 C11.2,20.7 14.1,18.2 14.1,14.8 C14.1,11.4 11.2,8.9 7.5,8.9 C5.4,8.9 3.6,9.7 2.6,11"/></g>
<g id="d7"><path d="M0.5,0.85 H13.6 L4.3,21.5"/></g>
<g id="d8"><ellipse cx="7" cy="5.6" rx="5" ry="4.75"/><ellipse cx="7" cy="15.6" rx="6.15" ry="5.2"/></g>
<g id="d9"><path d="M4.8,21 L12.4,10.5 C13.6,8.7 14.1,7.5 14.1,6.5 C14.1,3.3 11.2,0.85 7.5,0.85 C3.8,0.85 0.9,3.3 0.9,6.7 C0.9,10.1 3.8,12.6 7.5,12.6 C9.6,12.6 11.4,11.8 12.4,10.5"/></g>
</defs>
<g fill="none" stroke="#000" stroke-width="1.95" stroke-linecap="butt" stroke-linejoin="miter">
<use href="#d1" x="378.6" y="327.1"/>
<use href="#d0" x="389.2" y="327.1"/>
<use href="#d2" x="439.1" y="355.7"/>
<use href="#d7" x="456.7" y="355.7"/>
<use href="#d3" x="401.0" y="461.7"/>
<use href="#d1" x="421.2" y="461.7"/>
<use href="#d9" x="1168.7" y="347.7"/>
<use href="#d1" x="1113.7" y="445.5"/>
<use href="#d1" x="1132.3" y="445.5"/>
<use href="#d5" x="1277.7" y="553.2"/>
<use href="#d1" x="1080.5" y="669.7"/>
<use href="#d3" x="1092.9" y="669.7"/>
<use href="#d1" x="485.9" y="667.4"/>
<use href="#d2" x="498.3" y="667.4"/>
<use href="#d4" x="689.4" y="579.7"/>
<use href="#d1" x="712.0" y="579.7"/>
<use href="#d2" x="639.6" y="745.4"/>
<use href="#d1" x="659.4" y="745.4"/>
<use href="#d4" x="751.7" y="777.8"/>
<use href="#d5" x="772.1" y="777.8"/>
<use href="#d4" x="794.0" y="777.8"/>
<use href="#d6" x="814.4" y="777.8"/>
<use href="#d4" x="753.0" y="832.6"/>
<use href="#d0" x="773.4" y="832.6"/>
<use href="#d1" x="591.8" y="901.5"/>
<use href="#d5" x="604.2" y="901.5"/>
<use href="#d8" x="706.7" y="872.4"/>
<use href="#d2" x="493.4" y="958.1"/>
<use href="#d5" x="511.0" y="958.1"/>
<use href="#d1" x="806.3" y="1124.3"/>
<use href="#d6" x="818.7" y="1124.3"/>
<use href="#d1" x="288.2" y="977.5"/>
<use href="#d9" x="300.6" y="977.5"/>
<use href="#d3" x="347.0" y="923.7"/>
<use href="#d0" x="365.0" y="923.7"/>
<use href="#d7" x="1187.7" y="1060.4"/>
<use href="#d1" x="1126.6" y="1106.9"/>
<use href="#d1" x="409.4" y="1318.1"/>
<use href="#d8" x="421.8" y="1318.1"/>
<use href="#d2" x="364.7" y="1384.0"/>
<use href="#d8" x="382.3" y="1384.0"/>
<use href="#d3" x="278.8" y="1440.5"/>
<use href="#d2" x="296.8" y="1440.5"/>
<use href="#d3" x="158.3" y="1634.5"/>
<use href="#d2" x="777.2" y="1319.7"/>
<use href="#d0" x="794.8" y="1319.7"/>
<use href="#d4" x="848.2" y="1319.7"/>
<use href="#d2" x="920.5" y="1319.7"/>
<use href="#d3" x="938.1" y="1319.7"/>
<use href="#d2" x="938.4" y="1614.8"/>
<use href="#d2" x="835.7" y="1826.1"/>
<use href="#d2" x="853.3" y="1826.1"/>
<use href="#d2" x="640.9" y="1850.7"/>
<use href="#d6" x="658.5" y="1850.7"/>
<use href="#d3" x="1112.3" y="1607.6"/>
<use href="#d3" x="1130.3" y="1607.6"/>
</g>

</svg>
</body></html>
